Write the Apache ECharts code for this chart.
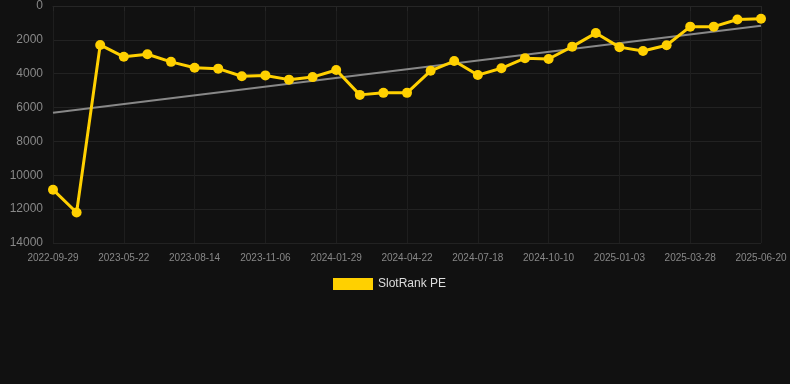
<!DOCTYPE html>
<html>
<head>
<meta charset="utf-8">
<script src="https://cdn.jsdelivr.net/npm/echarts@6/dist/echarts.min.js"></script>
<style>
  html, body { margin: 0; padding: 0; background: #111111; }
  #chart { width: 790px; height: 384px; }
</style>
</head>
<body>
<div id="chart"></div>
<script>
var dates = [
    '2022-09-29', '2022-10-27', '2023-04-24', '2023-05-22', '2023-06-19', '2023-07-17',
    '2023-08-14', '2023-09-11', '2023-10-09', '2023-11-06', '2023-12-04', '2024-01-01',
    '2024-01-29', '2024-02-26', '2024-03-25', '2024-04-22', '2024-05-21', '2024-06-19',
    '2024-07-18', '2024-08-15', '2024-09-12', '2024-10-10', '2024-11-07', '2024-12-05',
    '2025-01-03', '2025-01-31', '2025-02-28', '2025-03-28', '2025-04-25', '2025-05-23',
    '2025-06-20'
];
var rankValues = [
    10850, 12200, 2300, 3000, 2850, 3300,
    3650, 3700, 4150, 4100, 4350, 4200,
    3780, 5250, 5130, 5130, 3830, 3250,
    4080, 3680, 3080, 3130, 2400, 1600,
    2430, 2660, 2320, 1220, 1220, 800,
    750
];
// trend line end points (first and last category)
var trendStart = 6300;
var trendEnd = 1160;
var yTicks = [0, 2000, 4000, 6000, 8000, 10000, 12000, 14000];

var trendValues = dates.map(function (d, i) {
    if (i === 0) return trendStart;
    if (i === dates.length - 1) return trendEnd;
    return null;
});

var chart = echarts.init(document.getElementById('chart'));
var option = {
    backgroundColor: '#111111',
    animation: false,
    grid: {
        left: 53,
        right: 29,
        top: 6,
        bottom: 141
    },
    legend: {
        data: ['SlotRank PE'],
        top: 273,
        left: 328,
        itemWidth: 40,
        itemHeight: 12,
        itemGap: 10,
        icon: 'rect',
        textStyle: {
            color: '#dddddd',
            fontSize: 12,
            fontFamily: 'Liberation Sans'
        }
    },
    xAxis: {
        type: 'category',
        data: dates,
        boundaryGap: false,
        axisLine: {
            lineStyle: { color: '#262626' }
        },
        axisTick: {
            show: true,
            interval: 2,
            lineStyle: { color: '#262626' }
        },
        axisLabel: {
            interval: 2,
            color: '#888888',
            fontSize: 10,
            fontFamily: 'Liberation Sans',
            margin: 10
        },
        splitLine: {
            show: true,
            interval: 2,
            lineStyle: { color: '#1e1e1e' }
        }
    },
    yAxis: {
        type: 'value',
        inverse: true,
        min: yTicks[0],
        max: yTicks[yTicks.length - 1],
        interval: 2000,
        axisLine: { show: false },
        axisTick: { show: false },
        axisLabel: {
            color: '#888888',
            fontSize: 12,
            fontFamily: 'Liberation Sans',
            margin: 10,
            formatter: function (v) { return String(v); }
        },
        splitLine: {
            lineStyle: { color: '#222222' }
        }
    },
    series: [
        {
            name: 'SlotRank PE',
            type: 'line',
            data: rankValues,
            symbol: 'circle',
            symbolSize: 10,
            lineStyle: { color: '#ffd000', width: 3 },
            itemStyle: { color: '#ffd000' },
            z: 3
        },
        {
            name: 'Trend',
            type: 'line',
            data: trendValues,
            connectNulls: true,
            symbol: 'none',
            lineStyle: { color: '#888888', width: 2 },
            z: 2
        }
    ]
};
chart.setOption(option);
</script>
</body>
</html>
